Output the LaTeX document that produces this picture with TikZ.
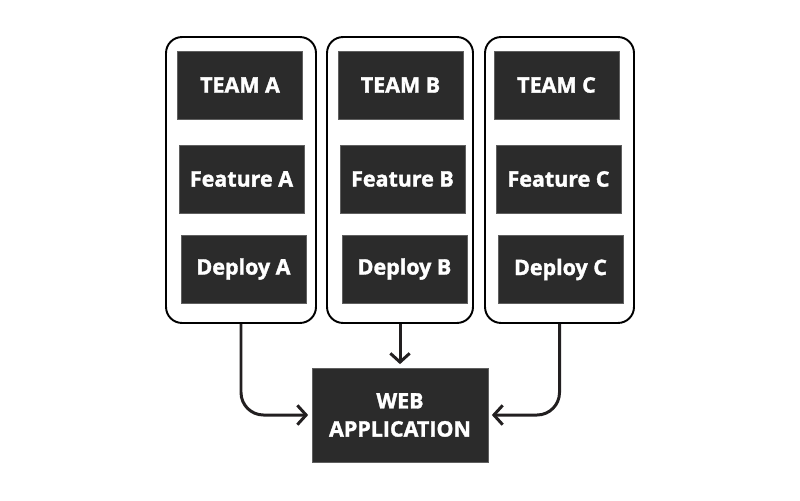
\documentclass[tikz,border=0pt]{standalone}
\usepackage{fontspec}
\setmainfont{Open Sans}[BoldFeatures={FakeBold=1.6}]
\usetikzlibrary{arrows.meta}
\definecolor{boxfill}{RGB}{43,43,43}
\definecolor{boxedge}{RGB}{95,95,95}
\definecolor{inkclr}{RGB}{34,31,32}
\tikzset{
	block/.style={fill=boxfill, draw=boxedge, line width=0.4pt, text=white,
		font=\fontsize{12.2}{16}\selectfont\bfseries,
		minimum width=2.5cm, minimum height=1.36cm, inner sep=0pt},
	group/.style={draw=black, line width=1.1pt, rounded corners=0.32cm,
		minimum height=5.72cm, inner sep=0pt},
	flow/.style={draw=inkclr, line width=1.7pt, rounded corners=0.45cm,
		-{Straight Barb[length=5pt, width=11pt, line width=1.7pt]}, shorten >=2pt}
}

\begin{document}
\begin{tikzpicture}[x=0.02cm, y=-0.02cm]
	\useasboundingbox (0,0) rectangle (800,500);

	% columns
	\node[group, minimum width=3.0cm] (grpA) at (241,180) {};
	\node[group, minimum width=2.92cm] (grpB) at (400,180) {};
	\node[group, minimum width=2.98cm] (grpC) at (559.5,180) {};

	\node[block] (teamA) at (240,85) {TEAM A};
	\node[block] (featA) at (241.5,179) {Feature A};
	\node[block] (depA) at (243.5,269) {Deploy A};

	\node[block] (teamB) at (400.5,85) {TEAM B};
	\node[block] (featB) at (402.5,179) {Feature B};
	\node[block] (depB) at (404.5,269) {Deploy B};

	\node[block] (teamC) at (556.5,85) {TEAM C};
	\node[block] (featC) at (558.5,179) {Feature C};
	\node[block] (depC) at (560.5,269.5) {Deploy C};

	% target
	\node[block, minimum width=3.52cm, minimum height=1.88cm, align=center] (web) at (400,415) {WEB\\APPLICATION};

	\draw[flow] (grpA.south) |- (web.west);
	\draw[flow] (grpB.south) -- (web.north);
	\draw[flow] (grpC.south) |- (web.east);
\end{tikzpicture}
\end{document}
